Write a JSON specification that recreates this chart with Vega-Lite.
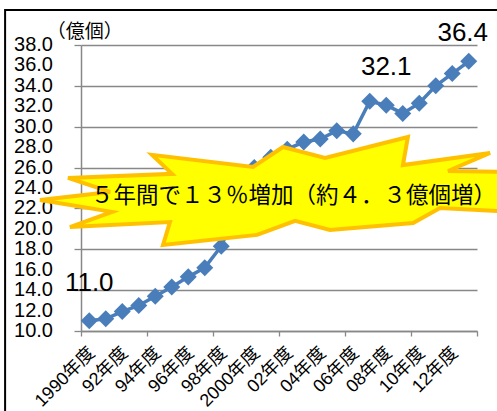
{
  "$schema": "https://vega.github.io/schema/vega-lite/v6.json",
  "width": 396,
  "height": 286,
  "autosize": {"type": "none"},
  "padding": {"left": 81, "top": 45, "right": 20, "bottom": 80},
  "background": "white",
  "config": {
    "view": {"stroke": null},
    "font": "Liberation Sans",
    "axis": {"tickColor": "#888888", "domainColor": "#888888", "gridColor": "#888888", "tickWidth": 1.3, "domainWidth": 1.5, "gridWidth": 1.3}
  },
  "datasets": {
    "counts": [
      {"year": 1990, "v": 11.0},
      {"year": 1991, "v": 11.2},
      {"year": 1992, "v": 11.9},
      {"year": 1993, "v": 12.5},
      {"year": 1994, "v": 13.4},
      {"year": 1995, "v": 14.3},
      {"year": 1996, "v": 15.3},
      {"year": 1997, "v": 16.2},
      {"year": 1998, "v": 18.3},
      {"year": 1999, "v": 22.0},
      {"year": 2000, "v": 26.0},
      {"year": 2001, "v": 27.0},
      {"year": 2002, "v": 27.8},
      {"year": 2003, "v": 28.5},
      {"year": 2004, "v": 28.8},
      {"year": 2005, "v": 29.6},
      {"year": 2006, "v": 29.3},
      {"year": 2007, "v": 32.5},
      {"year": 2008, "v": 32.1},
      {"year": 2009, "v": 31.3},
      {"year": 2010, "v": 32.3},
      {"year": 2011, "v": 34.0},
      {"year": 2012, "v": 35.2},
      {"year": 2013, "v": 36.4}
    ],
    "yticks": [
      {"tick": 10}, {"tick": 12}, {"tick": 14}, {"tick": 16}, {"tick": 18},
      {"tick": 20}, {"tick": 22}, {"tick": 24}, {"tick": 26}, {"tick": 28},
      {"tick": 30}, {"tick": 32}, {"tick": 34}, {"tick": 36}, {"tick": 38}
    ]
  },
  "data": {"name": "counts"},
  "layer": [
    {
      "mark": {"type": "line", "color": "#4A7EBB", "strokeWidth": 3.5},
      "encoding": {
        "x": {
          "field": "year",
          "type": "quantitative",
          "scale": {"domain": [1989.5, 2013.5], "nice": false, "zero": false},
          "axis": {
            "title": null,
            "grid": false,
            "labels": false,
            "values": [1989.5, 1990.5, 1991.5, 1992.5, 1993.5, 1994.5, 1995.5, 1996.5, 1997.5, 1998.5, 1999.5, 2000.5, 2001.5, 2002.5, 2003.5, 2004.5, 2005.5, 2006.5, 2007.5, 2008.5, 2009.5, 2010.5, 2011.5, 2012.5, 2013.5],
            "tickSize": 5
          }
        },
        "y": {
          "field": "v",
          "type": "quantitative",
          "scale": {"domain": [10, 38], "nice": false, "zero": false},
          "axis": {
            "values": [10, 12, 14, 16, 18, 20, 22, 24, 26, 28, 30, 32, 34, 36, 38],
            "labels": false,
            "title": null,
            "tickSize": 7
          }
        }
      }
    },
    {
      "mark": {"type": "point", "shape": "diamond", "size": 290, "filled": true, "color": "#4A7EBB", "opacity": 1},
      "encoding": {
        "x": {"field": "year", "type": "quantitative"},
        "y": {"field": "v", "type": "quantitative"}
      }
    },
    {
      "data": {"name": "yticks"},
      "mark": {"type": "text", "font": "Liberation Sans", "fontSize": 20, "color": "black", "align": "right", "baseline": "middle"},
      "encoding": {
        "x": {"datum": 1987.8, "type": "quantitative"},
        "y": {"field": "tick", "type": "quantitative"},
        "text": {"field": "tick", "type": "quantitative", "format": ".1f"}
      }
    },
    {
      "transform": [
        {"filter": "datum.year % 2 == 0"},
        {"calculate": "((datum.year == 1990 || datum.year == 2000) ? toString(datum.year) : substring(toString(datum.year), 2, 4)) + '年度'", "as": "label"}
      ],
      "mark": {"type": "text", "font": "Liberation Sans, Noto Sans CJK JP", "fontSize": 18, "color": "black", "align": "right", "baseline": "middle", "angle": 315, "dx": 2.1, "dy": 2.1},
      "encoding": {
        "x": {"field": "year", "type": "quantitative"},
        "y": {"datum": 8.1, "type": "quantitative"},
        "text": {"field": "label", "type": "nominal"}
      }
    },
    {
      "data": {"values": [{}]},
      "mark": {"type": "text", "text": "（億個）", "font": "Noto Sans CJK JP", "fontSize": 19, "color": "black", "align": "center", "baseline": "middle"},
      "encoding": {
        "x": {"datum": 1989.72, "type": "quantitative"},
        "y": {"datum": 39.27, "type": "quantitative"}
      }
    },
    {
      "data": {"values": [{}]},
      "mark": {"type": "rect", "fill": null, "stroke": "black", "strokeWidth": 2},
      "encoding": {
        "x": {"datum": 1984.9, "type": "quantitative"},
        "x2": {"datum": 2017},
        "y": {"datum": 41.43, "type": "quantitative"},
        "y2": {"datum": 2}
      }
    },
    {
      "data": {"values": [{}]},
      "mark": {
        "type": "point",
        "shape": "M-1,0.038L-0.705,0.004L-0.882,-0.055L-0.444,-0.072L-0.528,-0.152L-0.103,-0.101L0.023,-0.185L0.2,-0.139L0.549,-0.227L0.528,-0.109L0.895,-0.16L0.718,-0.084L1,-0.08L0.95,-0.004L1,0.088L0.684,0.072L0.571,0.135L0.221,0.164L0.074,0.126L-0.086,0.185L-0.482,0.227L-0.453,0.131L-0.874,0.152L-0.697,0.088Z",
        "size": 225625,
        "filled": true,
        "fill": "#FFFF00",
        "stroke": "#FFC000",
        "strokeWidth": 4,
        "strokeJoin": "miter",
        "opacity": 1
      },
      "encoding": {
        "x": {"datum": 2001.41, "type": "quantitative"},
        "y": {"datum": 23.71, "type": "quantitative"}
      }
    },
    {
      "data": {"values": [{}]},
      "mark": {
        "type": "text",
        "text": "５年間で１３％増加（約４．３億個増）",
        "font": "Noto Sans CJK JP",
        "fontSize": 22.5,
        "color": "black",
        "align": "center",
        "baseline": "middle"
      },
      "encoding": {
        "x": {"datum": 2002.38, "type": "quantitative"},
        "y": {"datum": 23.17, "type": "quantitative"}
      }
    },
    {
      "transform": [{"filter": "datum.year == 1990 || datum.year == 2008"}],
      "mark": {"type": "text", "fontSize": 26, "color": "black", "align": "center", "baseline": "alphabetic", "dy": -30},
      "encoding": {
        "x": {"field": "year", "type": "quantitative"},
        "y": {"field": "v", "type": "quantitative"},
        "text": {"field": "v", "type": "quantitative", "format": ".1f"}
      }
    },
    {
      "transform": [{"filter": "datum.year == 2013"}],
      "mark": {"type": "text", "fontSize": 26, "color": "black", "align": "center", "baseline": "alphabetic", "dx": -6, "dy": -20.6},
      "encoding": {
        "x": {"field": "year", "type": "quantitative"},
        "y": {"field": "v", "type": "quantitative"},
        "text": {"field": "v", "type": "quantitative", "format": ".1f"}
      }
    }
  ]
}
